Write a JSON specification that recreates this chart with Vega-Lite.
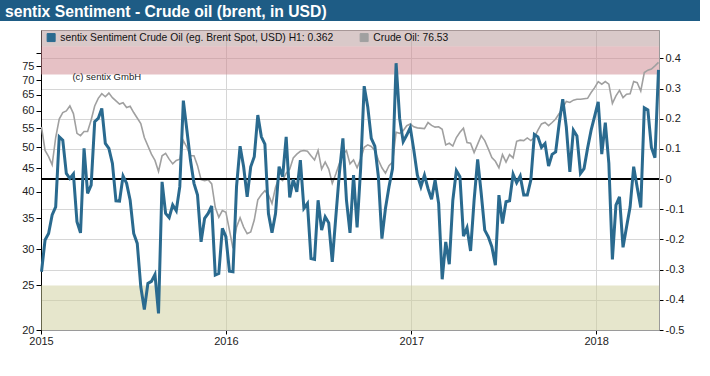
{
  "$schema": "https://vega.github.io/schema/vega-lite/v6.json",
  "background": "white",
  "padding": 0,
  "config": {"font": "Liberation Sans", "view": {"stroke": "#9a9a9a"}},
  "spacing": 9,
  "center": true,
  "bounds": "flush",
  "datasets": {
    "bands": [
      {"zone": "low", "lo": 20, "hi": 25},
      {"zone": "high", "lo": 72, "hi": 83},
      {"zone": "legend", "lo": 83, "hi": 90}
    ],
    "sent": [
      {"d":"2015-01-02","s":-0.307},{"d":"2015-01-09","s":-0.202},{"d":"2015-01-16","s":-0.18},{"d":"2015-01-23","s":-0.119},{"d":"2015-01-30","s":-0.092},
      {"d":"2015-02-06","s":0.140},{"d":"2015-02-13","s":0.129},{"d":"2015-02-20","s":0.019},{"d":"2015-02-27","s":0.002},
      {"d":"2015-03-06","s":0.017},{"d":"2015-03-13","s":-0.141},{"d":"2015-03-20","s":-0.178},{"d":"2015-03-27","s":0.102},
      {"d":"2015-04-03","s":-0.047},{"d":"2015-04-10","s":-0.020},{"d":"2015-04-17","s":0.190},{"d":"2015-04-24","s":0.201},
      {"d":"2015-05-01","s":0.234},{"d":"2015-05-08","s":0.118},{"d":"2015-05-15","s":0.102},{"d":"2015-05-22","s":0.052},{"d":"2015-05-29","s":-0.072},
      {"d":"2015-06-05","s":-0.073},{"d":"2015-06-12","s":0.010},{"d":"2015-06-19","s":-0.014},{"d":"2015-06-26","s":-0.070},
      {"d":"2015-07-03","s":-0.180},{"d":"2015-07-10","s":-0.213},{"d":"2015-07-17","s":-0.357},{"d":"2015-07-24","s":-0.432},{"d":"2015-07-31","s":-0.346},
      {"d":"2015-08-07","s":-0.339},{"d":"2015-08-14","s":-0.316},{"d":"2015-08-21","s":-0.445},{"d":"2015-08-28","s":-0.009},
      {"d":"2015-09-04","s":-0.114},{"d":"2015-09-11","s":-0.128},{"d":"2015-09-18","s":-0.086},{"d":"2015-09-25","s":-0.105},
      {"d":"2015-10-02","s":-0.025},{"d":"2015-10-09","s":0.260},{"d":"2015-10-16","s":0.162},{"d":"2015-10-23","s":0.063},{"d":"2015-10-30","s":-0.014},
      {"d":"2015-11-06","s":-0.053},{"d":"2015-11-13","s":-0.208},{"d":"2015-11-20","s":-0.130},{"d":"2015-11-27","s":-0.114},
      {"d":"2015-12-04","s":-0.089},{"d":"2015-12-11","s":-0.318},{"d":"2015-12-18","s":-0.313},{"d":"2015-12-25","s":-0.163},
      {"d":"2016-01-01","s":-0.191},{"d":"2016-01-08","s":-0.305},{"d":"2016-01-15","s":-0.307},{"d":"2016-01-22","s":-0.025},{"d":"2016-01-29","s":0.109},
      {"d":"2016-02-05","s":0.041},{"d":"2016-02-12","s":-0.059},{"d":"2016-02-19","s":0.041},{"d":"2016-02-26","s":0.074},
      {"d":"2016-03-04","s":0.212},{"d":"2016-03-11","s":0.140},{"d":"2016-03-18","s":0.116},{"d":"2016-03-25","s":-0.114},
      {"d":"2016-04-01","s":-0.178},{"d":"2016-04-08","s":-0.114},{"d":"2016-04-15","s":0.041},{"d":"2016-04-22","s":0.008},{"d":"2016-04-29","s":0.140},
      {"d":"2016-05-06","s":-0.061},{"d":"2016-05-13","s":-0.001},{"d":"2016-05-20","s":-0.042},{"d":"2016-05-27","s":0.063},
      {"d":"2016-06-03","s":-0.097},{"d":"2016-06-10","s":-0.081},{"d":"2016-06-17","s":-0.263},{"d":"2016-06-24","s":-0.266},
      {"d":"2016-07-01","s":-0.070},{"d":"2016-07-08","s":-0.169},{"d":"2016-07-15","s":-0.125},{"d":"2016-07-22","s":-0.145},{"d":"2016-07-29","s":-0.274},
      {"d":"2016-08-05","s":-0.125},{"d":"2016-08-12","s":0.019},{"d":"2016-08-19","s":0.135},{"d":"2016-08-26","s":-0.070},
      {"d":"2016-09-02","s":-0.178},{"d":"2016-09-09","s":0.013},{"d":"2016-09-16","s":-0.160},{"d":"2016-09-23","s":0.035},{"d":"2016-09-30","s":0.308},
      {"d":"2016-10-07","s":0.240},{"d":"2016-10-14","s":0.135},{"d":"2016-10-21","s":0.109},{"d":"2016-10-28","s":0.008},
      {"d":"2016-11-04","s":-0.197},{"d":"2016-11-11","s":-0.097},{"d":"2016-11-18","s":-0.025},{"d":"2016-11-25","s":0.035},
      {"d":"2016-12-02","s":0.384},{"d":"2016-12-09","s":0.201},{"d":"2016-12-16","s":0.124},{"d":"2016-12-23","s":0.146},{"d":"2016-12-30","s":0.171},
      {"d":"2017-01-06","s":0.096},{"d":"2017-01-13","s":0.013},{"d":"2017-01-20","s":-0.025},{"d":"2017-01-27","s":0.013},
      {"d":"2017-02-03","s":-0.031},{"d":"2017-02-10","s":-0.067},{"d":"2017-02-17","s":-0.003},{"d":"2017-02-24","s":-0.081},
      {"d":"2017-03-03","s":-0.332},{"d":"2017-03-10","s":-0.208},{"d":"2017-03-17","s":-0.282},{"d":"2017-03-24","s":-0.070},{"d":"2017-03-31","s":0.028},
      {"d":"2017-04-07","s":0.008},{"d":"2017-04-14","s":-0.189},{"d":"2017-04-21","s":-0.161},{"d":"2017-04-28","s":-0.238},
      {"d":"2017-05-05","s":-0.070},{"d":"2017-05-12","s":0.065},{"d":"2017-05-19","s":-0.047},{"d":"2017-05-26","s":-0.169},
      {"d":"2017-06-02","s":-0.191},{"d":"2017-06-09","s":-0.224},{"d":"2017-06-16","s":-0.285},{"d":"2017-06-23","s":-0.053},{"d":"2017-06-30","s":-0.147},
      {"d":"2017-07-07","s":-0.075},{"d":"2017-07-14","s":-0.072},{"d":"2017-07-21","s":0.016},{"d":"2017-07-28","s":-0.012},
      {"d":"2017-08-04","s":0.010},{"d":"2017-08-11","s":-0.053},{"d":"2017-08-18","s":-0.053},{"d":"2017-08-25","s":-0.003},
      {"d":"2017-09-01","s":0.148},{"d":"2017-09-08","s":0.140},{"d":"2017-09-15","s":0.105},{"d":"2017-09-22","s":0.118},{"d":"2017-09-29","s":0.043},
      {"d":"2017-10-06","s":0.082},{"d":"2017-10-13","s":0.090},{"d":"2017-10-20","s":0.185},{"d":"2017-10-27","s":0.265},
      {"d":"2017-11-03","s":0.173},{"d":"2017-11-10","s":0.024},{"d":"2017-11-17","s":0.162},{"d":"2017-11-24","s":0.143},
      {"d":"2017-12-01","s":0.019},{"d":"2017-12-08","s":0.035},{"d":"2017-12-15","s":0.102},{"d":"2017-12-22","s":0.162},{"d":"2017-12-29","s":0.209},
      {"d":"2018-01-05","s":0.256},{"d":"2018-01-12","s":0.083},{"d":"2018-01-19","s":0.187},{"d":"2018-01-26","s":0.052},
      {"d":"2018-02-02","s":-0.266},{"d":"2018-02-09","s":-0.086},{"d":"2018-02-16","s":-0.059},{"d":"2018-02-23","s":-0.226},
      {"d":"2018-03-02","s":-0.158},{"d":"2018-03-09","s":-0.092},{"d":"2018-03-16","s":0.041},{"d":"2018-03-23","s":-0.028},{"d":"2018-03-30","s":-0.094},
      {"d":"2018-04-06","s":0.236},{"d":"2018-04-13","s":0.229},{"d":"2018-04-20","s":0.105},{"d":"2018-04-27","s":0.071},
      {"d":"2018-05-04","s":0.362}
    ],
    "oil": [
      {"d":"2015-01-02","p":55.4},{"d":"2015-01-09","p":49.2},{"d":"2015-01-16","p":47.7},{"d":"2015-01-23","p":45.8},{"d":"2015-01-30","p":52.5},
      {"d":"2015-02-06","p":57.6},{"d":"2015-02-13","p":59.5},{"d":"2015-02-20","p":60.0},{"d":"2015-02-27","p":61.5},
      {"d":"2015-03-06","p":59.2},{"d":"2015-03-13","p":53.6},{"d":"2015-03-20","p":53.0},{"d":"2015-03-27","p":54.1},
      {"d":"2015-04-03","p":54.1},{"d":"2015-04-10","p":57.3},{"d":"2015-04-17","p":61.5},{"d":"2015-04-24","p":63.9},
      {"d":"2015-05-01","p":65.4},{"d":"2015-05-08","p":64.4},{"d":"2015-05-15","p":65.6},{"d":"2015-05-22","p":64.1},{"d":"2015-05-29","p":63.1},
      {"d":"2015-06-05","p":62.1},{"d":"2015-06-12","p":62.5},{"d":"2015-06-19","p":61.0},{"d":"2015-06-26","p":61.4},
      {"d":"2015-07-03","p":59.5},{"d":"2015-07-17","p":56.3},{"d":"2015-07-24","p":52.5},
      {"d":"2015-08-07","p":48.3},{"d":"2015-08-14","p":46.8},{"d":"2015-08-21","p":44.3},{"d":"2015-08-28","p":47.9},
      {"d":"2015-09-04","p":48.5},{"d":"2015-09-11","p":47.1},{"d":"2015-09-18","p":46.0},{"d":"2015-09-25","p":46.8},
      {"d":"2015-10-02","p":47.1},{"d":"2015-10-09","p":51.7},{"d":"2015-10-16","p":50.0},{"d":"2015-10-23","p":47.9},{"d":"2015-10-30","p":47.9},
      {"d":"2015-11-06","p":45.6},{"d":"2015-11-13","p":42.5},{"d":"2015-11-20","p":42.3},{"d":"2015-11-27","p":42.5},
      {"d":"2015-12-04","p":41.6},{"d":"2015-12-11","p":37.0},{"d":"2015-12-18","p":35.2},{"d":"2015-12-25","p":36.4},
      {"d":"2016-01-01","p":36.1},{"d":"2016-01-08","p":33.0},{"d":"2016-01-15","p":30.1},{"d":"2016-01-22","p":33.5},{"d":"2016-01-29","p":35.1},
      {"d":"2016-02-05","p":33.5},{"d":"2016-02-12","p":32.4},{"d":"2016-02-19","p":32.7},{"d":"2016-02-26","p":34.7},
      {"d":"2016-03-04","p":38.4},{"d":"2016-03-11","p":39.4},{"d":"2016-03-18","p":40.2},{"d":"2016-03-25","p":39.4},
      {"d":"2016-04-01","p":37.7},{"d":"2016-04-08","p":40.9},{"d":"2016-04-15","p":42.9},{"d":"2016-04-22","p":42.3},{"d":"2016-04-29","p":43.9},
      {"d":"2016-05-06","p":44.8},{"d":"2016-05-13","p":47.4},{"d":"2016-05-20","p":48.3},{"d":"2016-05-27","p":49.0},
      {"d":"2016-06-03","p":49.2},{"d":"2016-06-10","p":49.0},{"d":"2016-06-17","p":47.9},{"d":"2016-06-24","p":46.9},
      {"d":"2016-07-01","p":49.2},{"d":"2016-07-08","p":44.8},{"d":"2016-07-15","p":46.4},{"d":"2016-07-22","p":44.8},{"d":"2016-07-29","p":41.7},
      {"d":"2016-08-05","p":43.7},{"d":"2016-08-12","p":46.1},{"d":"2016-08-19","p":48.3},{"d":"2016-08-26","p":49.2},
      {"d":"2016-09-02","p":46.0},{"d":"2016-09-09","p":46.9},{"d":"2016-09-16","p":45.1},{"d":"2016-09-23","p":47.1},{"d":"2016-09-30","p":50.0},
      {"d":"2016-10-07","p":50.6},{"d":"2016-10-14","p":50.2},{"d":"2016-10-21","p":49.2},{"d":"2016-10-28","p":46.9},
      {"d":"2016-11-04","p":45.1},{"d":"2016-11-11","p":43.9},{"d":"2016-11-18","p":45.6},{"d":"2016-11-25","p":46.4},
      {"d":"2016-12-02","p":53.9},{"d":"2016-12-09","p":53.6},{"d":"2016-12-16","p":54.3},{"d":"2016-12-23","p":55.7},{"d":"2016-12-30","p":56.2},
      {"d":"2017-01-06","p":55.4},{"d":"2017-01-13","p":55.1},{"d":"2017-01-27","p":54.9},
      {"d":"2017-02-03","p":56.6},{"d":"2017-02-10","p":55.8},{"d":"2017-02-17","p":55.3},{"d":"2017-02-24","p":55.4},
      {"d":"2017-03-03","p":54.7},{"d":"2017-03-10","p":50.6},{"d":"2017-03-17","p":51.0},{"d":"2017-03-24","p":50.3},{"d":"2017-03-31","p":52.5},
      {"d":"2017-04-07","p":53.9},{"d":"2017-04-14","p":55.0},{"d":"2017-04-21","p":51.2},{"d":"2017-04-28","p":51.0},
      {"d":"2017-05-05","p":48.7},{"d":"2017-05-12","p":50.8},{"d":"2017-05-19","p":53.0},{"d":"2017-05-26","p":51.7},
      {"d":"2017-06-02","p":49.6},{"d":"2017-06-09","p":47.5},{"d":"2017-06-16","p":46.6},{"d":"2017-06-23","p":45.1},{"d":"2017-06-30","p":48.2},
      {"d":"2017-07-07","p":46.4},{"d":"2017-07-14","p":48.2},{"d":"2017-07-21","p":47.4},{"d":"2017-07-28","p":51.5},
      {"d":"2017-08-04","p":51.8},{"d":"2017-08-11","p":51.7},{"d":"2017-08-18","p":52.4},{"d":"2017-08-25","p":51.7},
      {"d":"2017-09-01","p":52.5},{"d":"2017-09-08","p":54.5},{"d":"2017-09-15","p":56.2},{"d":"2017-09-22","p":56.6},{"d":"2017-09-29","p":55.7},
      {"d":"2017-10-06","p":56.6},{"d":"2017-10-13","p":57.6},{"d":"2017-10-20","p":59.2},{"d":"2017-10-27","p":61.0},
      {"d":"2017-11-03","p":62.9},{"d":"2017-11-10","p":62.6},{"d":"2017-11-17","p":63.3},{"d":"2017-11-24","p":63.6},
      {"d":"2017-12-01","p":63.6},{"d":"2017-12-15","p":63.9},{"d":"2017-12-22","p":65.8},{"d":"2017-12-29","p":67.4},
      {"d":"2018-01-05","p":69.5},{"d":"2018-01-12","p":68.6},{"d":"2018-01-19","p":69.5},{"d":"2018-01-26","p":68.6},
      {"d":"2018-02-02","p":62.3},{"d":"2018-02-09","p":64.7},{"d":"2018-02-16","p":66.5},{"d":"2018-02-23","p":64.1},
      {"d":"2018-03-02","p":65.2},{"d":"2018-03-09","p":65.4},{"d":"2018-03-16","p":69.5},{"d":"2018-03-23","p":69.1},{"d":"2018-03-30","p":66.3},
      {"d":"2018-04-06","p":72.7},{"d":"2018-04-13","p":73.6},{"d":"2018-04-20","p":74.0},{"d":"2018-04-27","p":75.2},
      {"d":"2018-05-04","p":76.53}
    ]
  },
  "vconcat": [
    {
      "width": 700,
      "height": 21,
      "view": {"stroke": null, "fill": "#1e5c85"},
      "data": {"values": [{"label": "sentix Sentiment - Crude oil (brent, in USD)"}]},
      "mark": {"type": "text", "align": "left", "baseline": "alphabetic", "x": 5, "y": 17, "fontSize": 15.7, "fontWeight": "bold", "color": "#ffffff", "font": "Liberation Sans"},
      "encoding": {"text": {"field": "label"}}
    },
    {
      "width": 618,
      "height": 300,
      "resolve": {"scale": {"y": "independent"}, "axis": {"y": "independent"}},
      "layer": [
        {
          "layer": [
            {
              "data": {"name": "bands"},
              "transform": [{"filter": "datum.zone == 'low'"}],
              "mark": {"type": "rect", "fill": "#cdcd99", "opacity": 0.5},
              "encoding": {
                "y": {"field": "lo", "type": "quantitative", "title": null,
                  "scale": {"type": "log", "domain": [20, 90], "nice": false, "zero": false},
                  "axis": {"orient": "left", "title": null, "values": [20,25,30,35,40,45,50,55,60,65,70,75,80],
                    "labelExpr": "datum.value == 80 ? '' : datum.label", "labelOverlap": false,
                    "grid": false, "domainColor": "#000000", "tickColor": "#000000", "tickSize": 5,
                    "labelPadding": 2, "labelFontSize": 11, "labelColor": "#222222", "labelFont": "Liberation Sans"}},
                "y2": {"field": "hi"}
              }
            },
            {
              "data": {"name": "bands"},
              "transform": [{"filter": "datum.zone == 'high'"}],
              "mark": {"type": "rect", "fill": "#cd838b", "opacity": 0.5},
              "encoding": {"y": {"field": "lo", "type": "quantitative", "title": null}, "y2": {"field": "hi"}}
            },
            {
              "data": {"name": "bands"},
              "transform": [{"filter": "datum.zone == 'legend'"}],
              "mark": {"type": "rect", "fill": "#b39393", "opacity": 0.5},
              "encoding": {"y": {"field": "lo", "type": "quantitative", "title": null}, "y2": {"field": "hi"}}
            },
            {
              "data": {"name": "oil"},
              "mark": {"type": "line", "strokeWidth": 1.6},
              "encoding": {
                "x": {"field": "d", "type": "temporal", "title": null,
                  "scale": {"domain": [{"year": 2015, "month": 1, "date": 1}, {"year": 2018, "month": 5, "date": 5}]},
                  "axis": {"format": "%Y", "tickCount": "year", "labelFlush": false, "grid": true, "gridColor": "#d6d6d6",
                    "domainColor": "#9a9a9a", "tickColor": "#000000", "tickSize": 4, "labelPadding": 1,
                    "labelFontSize": 11, "labelColor": "#222222", "labelFont": "Liberation Sans"}},
                "y": {"field": "p", "type": "quantitative", "title": null},
                "color": {"datum": "Crude Oil: 76.53", "type": "nominal"}
              }
            },
            {
              "data": {"values": [{"d": "2015-03-04", "p": 71.1, "note": "(c) sentix GmbH"}]},
              "mark": {"type": "text", "align": "left", "baseline": "middle", "fontSize": 9.5, "color": "#222222", "font": "Liberation Sans"},
              "encoding": {
                "x": {"field": "d", "type": "temporal"},
                "y": {"field": "p", "type": "quantitative", "title": null},
                "text": {"field": "note"}
              }
            }
          ]
        },
        {
          "layer": [
            {
              "data": {"values": [{"s": 0}]},
              "mark": {"type": "rule", "color": "#000000", "strokeWidth": 2},
              "encoding": {
                "y": {"field": "s", "type": "quantitative", "title": null,
                  "scale": {"domain": [-0.5, 0.494], "nice": false, "zero": false},
                  "axis": {"orient": "right", "title": null, "values": [-0.5,-0.4,-0.3,-0.2,-0.1,0,0.1,0.2,0.3,0.4],
                    "format": ".1~f", "labelExpr": "replace(datum.label, '\u2212', '-')", "labelOverlap": false, "labelSeparation": 0,
                    "grid": true, "gridColor": "#d6d6d6", "domainColor": "#9a9a9a", "tickColor": "#000000", "tickSize": 4,
                    "labelPadding": 2, "labelFontSize": 11, "labelColor": "#222222", "labelFont": "Liberation Sans"}}
              }
            },
            {
              "data": {"name": "sent"},
              "mark": {"type": "line", "strokeWidth": 3},
              "encoding": {
                "x": {"field": "d", "type": "temporal"},
                "y": {"field": "s", "type": "quantitative", "title": null,
                  "axis": {"orient": "right", "title": null, "values": [-0.5,-0.4,-0.3,-0.2,-0.1,0,0.1,0.2,0.3,0.4],
                    "format": ".1~f", "labelExpr": "replace(datum.label, '\u2212', '-')", "labelOverlap": false, "labelSeparation": 0,
                    "grid": true, "gridColor": "#d6d6d6", "domainColor": "#9a9a9a", "tickColor": "#000000", "tickSize": 4,
                    "labelPadding": 2, "labelFontSize": 11, "labelColor": "#222222", "labelFont": "Liberation Sans"}},
                "color": {"datum": "sentix Sentiment Crude Oil (eg. Brent Spot, USD) H1: 0.362", "type": "nominal",
                  "scale": {"domain": ["sentix Sentiment Crude Oil (eg. Brent Spot, USD) H1: 0.362", "Crude Oil: 76.53"], "range": ["#2a6a8f", "#a0a0a0"]},
                  "legend": {"title": null, "orient": "none", "legendX": 46, "legendY": 32, "direction": "horizontal", "padding": 0,
                    "symbolType": "square", "symbolSize": 64, "symbolStrokeWidth": 1, "symbolStrokeColor": "#333333",
                    "labelFontSize": 10.3, "labelColor": "#111111", "labelFont": "Liberation Sans", "labelLimit": 400,
                    "labelOffset": 4, "columnPadding": 24,
                    "encode": {"symbols": {"update": {"fill": {"scale": "color", "field": "value"}, "fillOpacity": {"value": 1}, "stroke": {"value": "#333333"}, "strokeWidth": {"value": 1}}}}}
                }
              }
            }
          ]
        }
      ]
    }
  ]
}
